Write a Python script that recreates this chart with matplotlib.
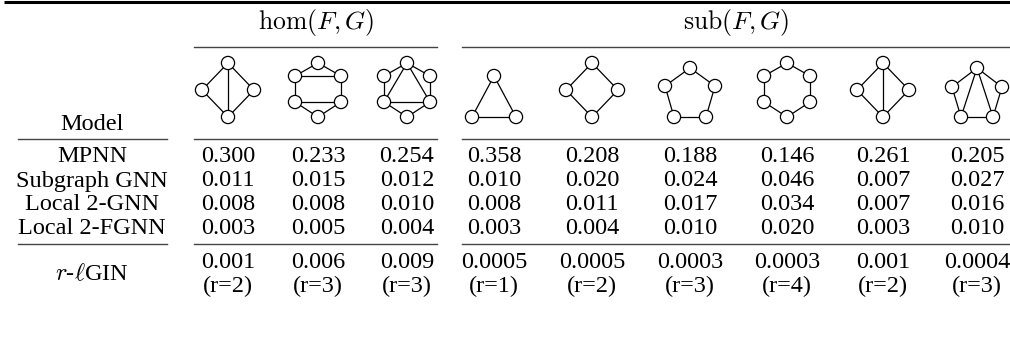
import matplotlib
matplotlib.use("Agg")
import matplotlib.pyplot as plt
from matplotlib.patches import Circle

plt.rcParams['font.family'] = ['Liberation Serif', 'DejaVu Serif']
plt.rcParams['mathtext.fontset'] = 'cm'

# table contents
models = ['MPNN', 'Subgraph GNN', 'Local 2-GNN', 'Local 2-FGNN']
mpnn = ['0.300', '0.233', '0.254', '0.358', '0.208', '0.188', '0.146', '0.261', '0.205']
subgraph = ['0.011', '0.015', '0.012', '0.010', '0.020', '0.024', '0.046', '0.007', '0.027']
local2 = ['0.008', '0.008', '0.010', '0.008', '0.011', '0.017', '0.034', '0.007', '0.016']
local2f = ['0.003', '0.005', '0.004', '0.003', '0.004', '0.010', '0.020', '0.003', '0.010']
rlgin = ['0.001', '0.006', '0.009', '0.0005', '0.0005', '0.0003', '0.0003', '0.001', '0.0004']
rlgin_r = [2, 3, 3, 1, 2, 3, 4, 2, 3]
rows = [mpnn, subgraph, local2, local2f]

# pattern graphs F: node offsets (dx, y) from column centre, and edges
diamond_chord = ([(0, 63), (-26, 90), (26, 90), (0, 117)],
                 [(0, 1), (0, 2), (1, 3), (2, 3), (0, 3)])
hex_two = ([(0, 63), (-23, 76), (23, 76), (-23, 102), (23, 102), (0, 117)],
           [(0, 1), (0, 2), (1, 3), (2, 4), (3, 5), (4, 5), (1, 2), (3, 4)])
hex_tri = ([(0, 63), (-23, 76), (23, 76), (-23, 102), (23, 102), (0, 117)],
           [(0, 1), (0, 2), (1, 3), (2, 4), (3, 5), (4, 5), (0, 3), (0, 4), (3, 4)])
triangle = ([(0, 76), (-22, 117), (22, 117)], [(0, 1), (0, 2), (1, 2)])
square = ([(0, 63), (-26, 90), (26, 90), (0, 117)],
          [(0, 1), (0, 2), (1, 3), (2, 3)])
pentagon = ([(0, 68), (-25, 86), (25, 86), (-16, 117), (16, 117)],
            [(0, 1), (0, 2), (1, 3), (2, 4), (3, 4)])
hexagon = ([(0, 63), (-23, 76), (23, 76), (-23, 102), (23, 102), (0, 117)],
           [(0, 1), (0, 2), (1, 3), (2, 4), (3, 5), (4, 5)])
pent_chords = ([(0, 68), (-25, 87), (25, 87), (-16, 117), (16, 117)],
               [(0, 1), (0, 2), (1, 3), (2, 4), (3, 4), (0, 3), (0, 4)])
patterns = [diamond_chord, hex_two, hex_tri, triangle, square, pentagon,
            hexagon, diamond_chord, pent_chords]

col_x = [228, 318, 407, 494, 592, 690, 787, 883, 977]
model_x = 92
row_y = [157, 181, 205, 229]
fs = 17.5

fig = plt.figure(figsize=(10.10, 3.39), dpi=100)
ax = fig.add_axes([0, 0, 1, 1])
ax.set_xlim(0, 1010)
ax.set_ylim(339, 0)
ax.axis('off')

# rules
ax.plot([4, 1010], [2, 2], color='black', lw=2.2, solid_capstyle='butt')
rule_c = '#444444'
for x0, x1 in [(194, 437), (462, 1010)]:
    ax.plot([x0, x1], [47, 47], color=rule_c, lw=1.0)
for y in [139, 244]:
    for x0, x1 in [(18, 167), (194, 437), (462, 1010)]:
        ax.plot([x0, x1], [y, y], color=rule_c, lw=1.0)

# headers
ax.text(316, 23, r'$\mathrm{hom}(F, G)$', ha='center', va='center', fontsize=18.5)
ax.text(736, 23, r'$\mathrm{sub}(F, G)$', ha='center', va='center', fontsize=18.5)
ax.text(model_x, 125, 'Model', ha='center', va='center', fontsize=fs)

# pattern drawings
for cx, (nodes, edges) in zip(col_x, patterns):
    for a, b in edges:
        ax.plot([cx + nodes[a][0], cx + nodes[b][0]], [nodes[a][1], nodes[b][1]],
                color='black', lw=0.9, zorder=2)
    for dx, y in nodes:
        ax.add_patch(Circle((cx + dx, y), 6.6, facecolor='white',
                            edgecolor='black', lw=0.9, zorder=3))

# body
for name, vals, y in zip(models, rows, row_y):
    ax.text(model_x, y, name, ha='center', va='center', fontsize=fs)
    for x, v in zip(col_x, vals):
        ax.text(x, y, v, ha='center', va='center', fontsize=fs)

ax.text(model_x, 274, r'$r$-$\ell$GIN', ha='center', va='center', fontsize=fs)
for x, v, r in zip(col_x, rlgin, rlgin_r):
    ax.text(x, 263, v, ha='center', va='center', fontsize=fs)
    ax.text(x, 286, f'(r={r})', ha='center', va='center', fontsize=fs)

fig.savefig('out.png', dpi=100)
